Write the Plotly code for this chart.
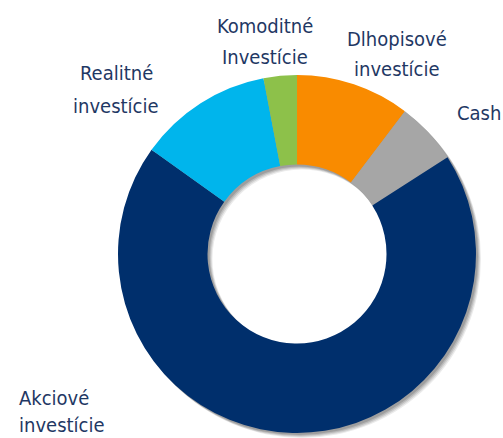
import plotly.graph_objects as go

W, H = 503, 438

categories = ["Dlhopisové investície", "Cash", "Akciové investície", "Realitné investície", "Komoditné Investície"]
values = [10.3, 5.6, 69.0, 12.1, 3.0]
colors = ["#F98B00", "#A6A6A6", "#002F6C", "#00B5EC", "#8DC14A"]

# label lines: (text, x_px, y_px, anchor)
label_lines = [
    ("Komoditné", 265, 26, "center"),
    ("Investície", 265, 57, "center"),
    ("Dlhopisové", 397, 39, "center"),
    ("investície", 397, 69, "center"),
    ("Realitné", 116, 73, "center"),
    ("investície", 116, 106, "center"),
    ("Cash", 502, 113, "right"),
    ("Akciové", 18, 398, "left"),
    ("investície", 18, 425, "left"),
]

cx, cy, r = 297, 254, 179


def dom(ox=0, oy=0):
    return dict(x=[(cx + ox - r) / W, (cx + ox + r) / W],
                y=[1 - (cy + oy + r) / H, 1 - (cy + oy - r) / H])


fig = go.Figure()
# soft drop shadow (stacked offset rings)
for off, a in [(5, 0.08), (4, 0.10), (3, 0.12), (2, 0.14)]:
    fig.add_trace(go.Pie(
        values=[1], labels=["shadow"], marker=dict(colors=[f"rgba(0,0,0,{a})"], line=dict(width=0)),
        hole=0.5, sort=False, textinfo="none", hoverinfo="skip", showlegend=False,
        domain=dom(off, off),
    ))

fig.add_trace(go.Pie(
    labels=categories,
    values=values,
    marker=dict(colors=colors, line=dict(width=0)),
    hole=0.5,
    sort=False,
    direction="clockwise",
    rotation=0,
    textinfo="none",
    hoverinfo="label+value",
    showlegend=False,
    domain=dom(),
))

font_family = "DejaVu Sans Condensed, Liberation Sans Narrow, sans-serif"
for txt, px, py, anc in label_lines:
    fig.add_annotation(
        x=px / W, y=1 - py / H, xref="paper", yref="paper",
        text=txt, showarrow=False, xanchor=anc, yanchor="middle",
        font=dict(family=font_family, size=20, color="#1F3864"),
        borderpad=0,
    )

fig.update_layout(
    width=W, height=H,
    margin=dict(l=0, r=0, t=0, b=0),
    paper_bgcolor="white", plot_bgcolor="white",
)
fig.write_html(
    "out.html",
    config={"displayModeBar": False},
    post_script="document.body.style.margin='0';document.body.style.overflow='hidden';",
)
